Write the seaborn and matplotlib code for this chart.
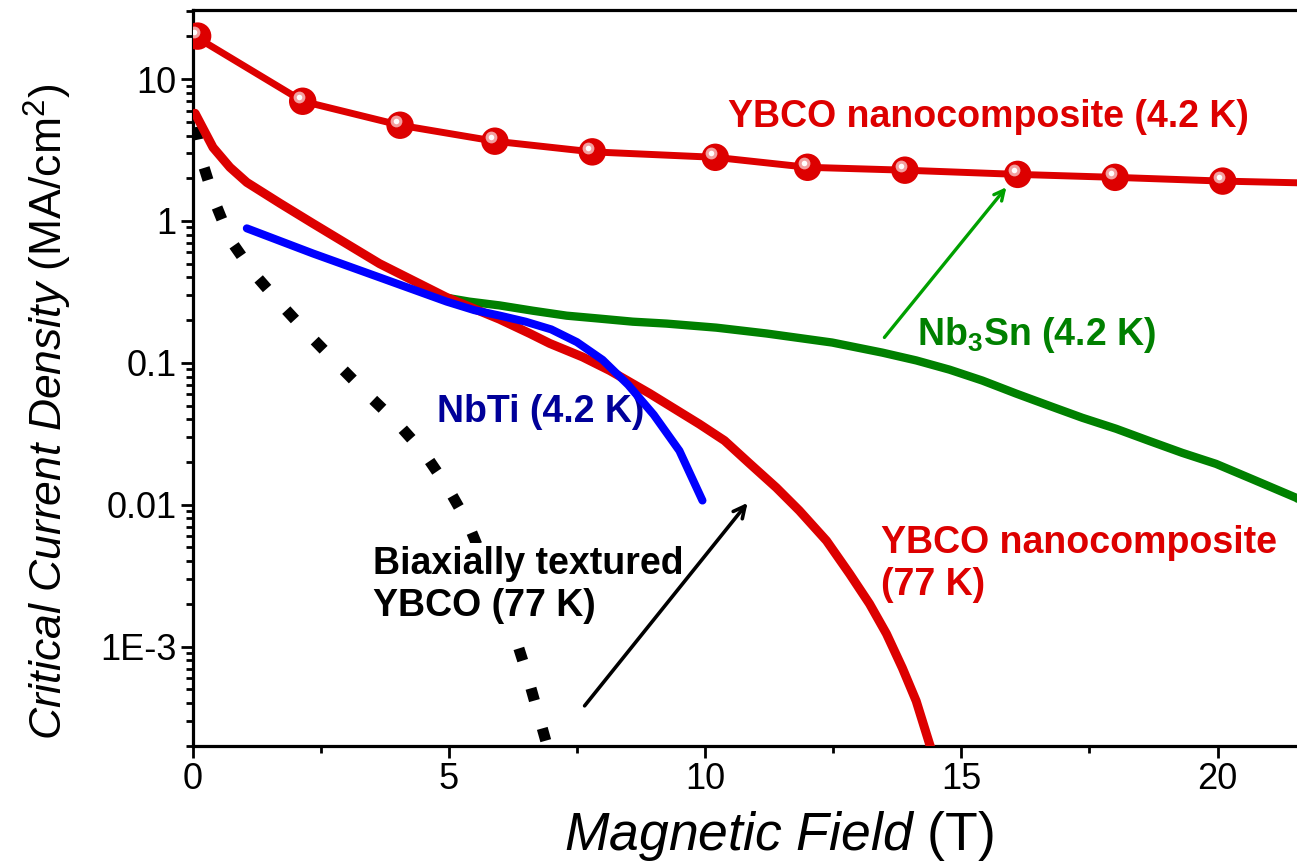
import numpy as np
import pandas as pd
import matplotlib
matplotlib.use("Agg")
import matplotlib.pyplot as plt
import matplotlib.ticker as ticker
import matplotlib.transforms as mtransforms
import seaborn as sns

# YBCO nanocomposite 4.2 K: puntos (esferas) y curva
ybco42_field = [0.1, 2.15, 4.05, 5.9, 7.8, 10.2, 12.0, 13.9, 16.1, 18.0, 20.1]
ybco42_jc = [20.1, 6.98, 4.73, 3.65, 3.07, 2.81, 2.39, 2.28, 2.13, 2.03, 1.91]
ybco42_line_field = [0.0, 2.15, 4.05, 5.9, 7.8, 10.2, 12.0, 13.9, 16.1, 18.0, 20.1, 21.8]
ybco42_line_jc = [20.5, 6.98, 4.73, 3.65, 3.07, 2.81, 2.39, 2.28, 2.13, 2.03, 1.91, 1.85]

# YBCO nanocomposite 77 K
ybco77_field = [0.05, 0.4, 0.73, 1.06, 1.71, 2.35, 3.65, 4.96, 5.99, 6.58, 6.97, 7.61, 8.14,
                8.92, 9.89, 10.38, 10.87, 11.39, 11.84, 12.37, 12.82, 13.21, 13.54, 13.85,
                14.12, 14.38, 14.6]
ybco77_jc = [5.74, 3.30, 2.39, 1.87, 1.33, 0.96, 0.50, 0.289, 0.203, 0.161, 0.137, 0.110,
             0.0883, 0.0608, 0.037, 0.0283, 0.0195, 0.0132, 0.00908, 0.00557, 0.00326, 0.002,
             0.00123, 7.06e-4, 4.13e-4, 2.06e-4, 1.2e-4]

# NbTi 4.2 K
nbti_field = [1.06, 2.35, 3.65, 4.96, 5.5, 6.0, 6.5, 7.0, 7.5, 8.0, 8.5, 9.0, 9.5, 9.95]
nbti_jc = [0.887, 0.59, 0.40, 0.27, 0.235, 0.215, 0.195, 0.172, 0.14, 0.105, 0.07, 0.043,
           0.024, 0.0107]

# Nb3Sn 4.2 K
nb3sn_field = [4.9, 5.4, 5.99, 6.64, 7.30, 7.94, 8.59, 9.25, 10.22, 11.2, 12.48, 13.46, 14.12,
               14.77, 15.41, 16.07, 16.71, 17.36, 18.02, 18.66, 19.31, 19.97, 20.61, 21.53, 21.8]
nb3sn_jc = [0.29, 0.27, 0.254, 0.233, 0.215, 0.205, 0.195, 0.189, 0.177, 0.161, 0.139, 0.118,
            0.104, 0.0895, 0.075, 0.0607, 0.0499, 0.041, 0.0343, 0.0282, 0.0232, 0.0194, 0.0155,
            0.0112, 0.0098]

# YBCO biaxialmente texturizado 77 K
biax_field = [0.05, 0.2, 0.44, 0.73, 1.18, 1.71, 2.25, 2.82, 3.4, 3.97, 4.53, 4.98, 5.37,
              6.29, 6.52, 6.73, 6.91, 7.0]
biax_jc = [4.58, 2.55, 1.35, 0.742, 0.434, 0.262, 0.161, 0.0989, 0.0607, 0.0385, 0.0229,
           0.0132, 0.00746, 0.00119, 6.5e-4, 3.5e-4, 2.06e-4, 1.6e-4]

ytick_vals = [10, 1, 0.1, 0.01, 0.001]
ytick_labels = ["10", "1", "0.1", "0.01", "1E-3"]
xtick_vals = [0, 5, 10, 15, 20]

RED = "#dd0000"
GREEN = "#008000"
BLUE = "#0000ff"

sns.set_theme(style="ticks")
plt.rcParams["font.family"] = ["Liberation Sans", "DejaVu Sans"]
plt.rcParams["mathtext.fontset"] = "custom"
plt.rcParams["mathtext.rm"] = "Liberation Sans"
plt.rcParams["mathtext.it"] = "Liberation Sans:italic"
plt.rcParams["mathtext.bf"] = "Liberation Sans:bold"
plt.rcParams["text.color"] = "black"
plt.rcParams["axes.labelcolor"] = "black"
plt.rcParams["xtick.color"] = "black"
plt.rcParams["ytick.color"] = "black"

fig = plt.figure(figsize=(12.97, 8.64), dpi=100)
ax = fig.add_axes([192.5 / 1297, 1 - 745.7 / 864, 1 - 192.5 / 1297, (745.7 - 10) / 864])
ax.set_yscale("log")

df_biax = pd.DataFrame({"B": biax_field, "Jc": biax_jc})
df_77 = pd.DataFrame({"B": ybco77_field, "Jc": ybco77_jc})
df_nbti = pd.DataFrame({"B": nbti_field, "Jc": nbti_jc})
df_nb3sn = pd.DataFrame({"B": nb3sn_field, "Jc": nb3sn_jc})
df_42l = pd.DataFrame({"B": ybco42_line_field, "Jc": ybco42_line_jc})
df_42 = pd.DataFrame({"B": ybco42_field, "Jc": ybco42_jc})

sns.lineplot(data=df_biax, x="B", y="Jc", ax=ax, color="black", lw=8, estimator=None,
             linestyle=(0, (1.15, 2.6)), dash_capstyle="butt", zorder=2)
sns.lineplot(data=df_nb3sn, x="B", y="Jc", ax=ax, color=GREEN, lw=6, estimator=None, zorder=3)
sns.lineplot(data=df_77, x="B", y="Jc", ax=ax, color=RED, lw=6.5, estimator=None, zorder=4)
sns.lineplot(data=df_nbti, x="B", y="Jc", ax=ax, color=BLUE, lw=5.8, estimator=None, zorder=5)
sns.lineplot(data=df_42l, x="B", y="Jc", ax=ax, color=RED, lw=5, estimator=None, zorder=6)
sns.scatterplot(data=df_42, x="B", y="Jc", ax=ax, color=RED, s=390, edgecolor="none", zorder=7)

# brillo de las esferas
hl = mtransforms.offset_copy(ax.transData, fig=fig, x=-2.8, y=2.8, units="points")
ax.plot(ybco42_field, ybco42_jc, "o", ms=8.5, color="#f2a0a0", mec="none", transform=hl, zorder=8)
ax.plot(ybco42_field, ybco42_jc, "o", ms=4, color="white", mec="none", transform=hl, zorder=9)

ax.set_xlim(0, 21.55)
ax.set_ylim(2e-4, 30.7)

ax.xaxis.set_major_locator(ticker.FixedLocator(xtick_vals))
ax.xaxis.set_minor_locator(ticker.MultipleLocator(2.5))
ax.yaxis.set_major_locator(ticker.FixedLocator(ytick_vals))
ax.yaxis.set_major_formatter(ticker.FixedFormatter(ytick_labels))
ax.yaxis.set_minor_locator(ticker.LogLocator(base=10, subs=np.arange(2, 10)))
ax.yaxis.set_minor_formatter(ticker.NullFormatter())

ax.tick_params(which="major", direction="out", length=8.5, width=2, labelsize=26, pad=3)
ax.tick_params(which="minor", direction="out", length=5, width=2)
for side in ["left", "bottom", "top"]:
    ax.spines[side].set_linewidth(2.3)
    ax.spines[side].set_color("black")
ax.spines["right"].set_visible(False)

ax.set_xlabel(r"$\it{Magnetic\ Field}$ (T)", fontsize=38.5, labelpad=10)
ax.xaxis.set_label_coords(0.531, -0.086)
ax.set_ylabel(r"$\it{Critical\ Current\ Density}$ (MA/cm$^2$)", fontsize=32, labelpad=12)
ax.yaxis.set_label_coords(-0.107, 0.454)

bold = dict(fontsize=27, fontweight="bold", va="center", ha="left")
ax.text(10.45, 5.38, "YBCO nanocomposite (4.2 K)", color=RED, **bold)
ax.text(14.13, 0.156, r"Nb$_\mathbf{3}$Sn (4.2 K)", color=GREEN, **bold)
ax.text(4.77, 0.0447, "NbTi (4.2 K)", color="#000099", **bold)
ax.text(13.44, 0.00383, "YBCO nanocomposite\n(77 K)", color=RED, linespacing=1.2, **bold)
ax.text(3.52, 0.00272, "Biaxially textured\nYBCO (77 K)", color="black", linespacing=1.2,
        bbox=dict(facecolor="white", edgecolor="none", pad=2), zorder=10, **bold)

ax.annotate("", xy=(15.88, 1.73), xytext=(13.5, 0.151), zorder=11,
            arrowprops=dict(arrowstyle="->,head_length=0.6,head_width=0.3", color="#00a000",
                            lw=2.4, shrinkA=0, shrinkB=0))
ax.annotate("", xy=(10.83, 0.0103), xytext=(7.65, 3.82e-4), zorder=11,
            arrowprops=dict(arrowstyle="->,head_length=0.7,head_width=0.35", color="black",
                            lw=2.6, shrinkA=0, shrinkB=0))

fig.savefig("out.png", dpi=100)
